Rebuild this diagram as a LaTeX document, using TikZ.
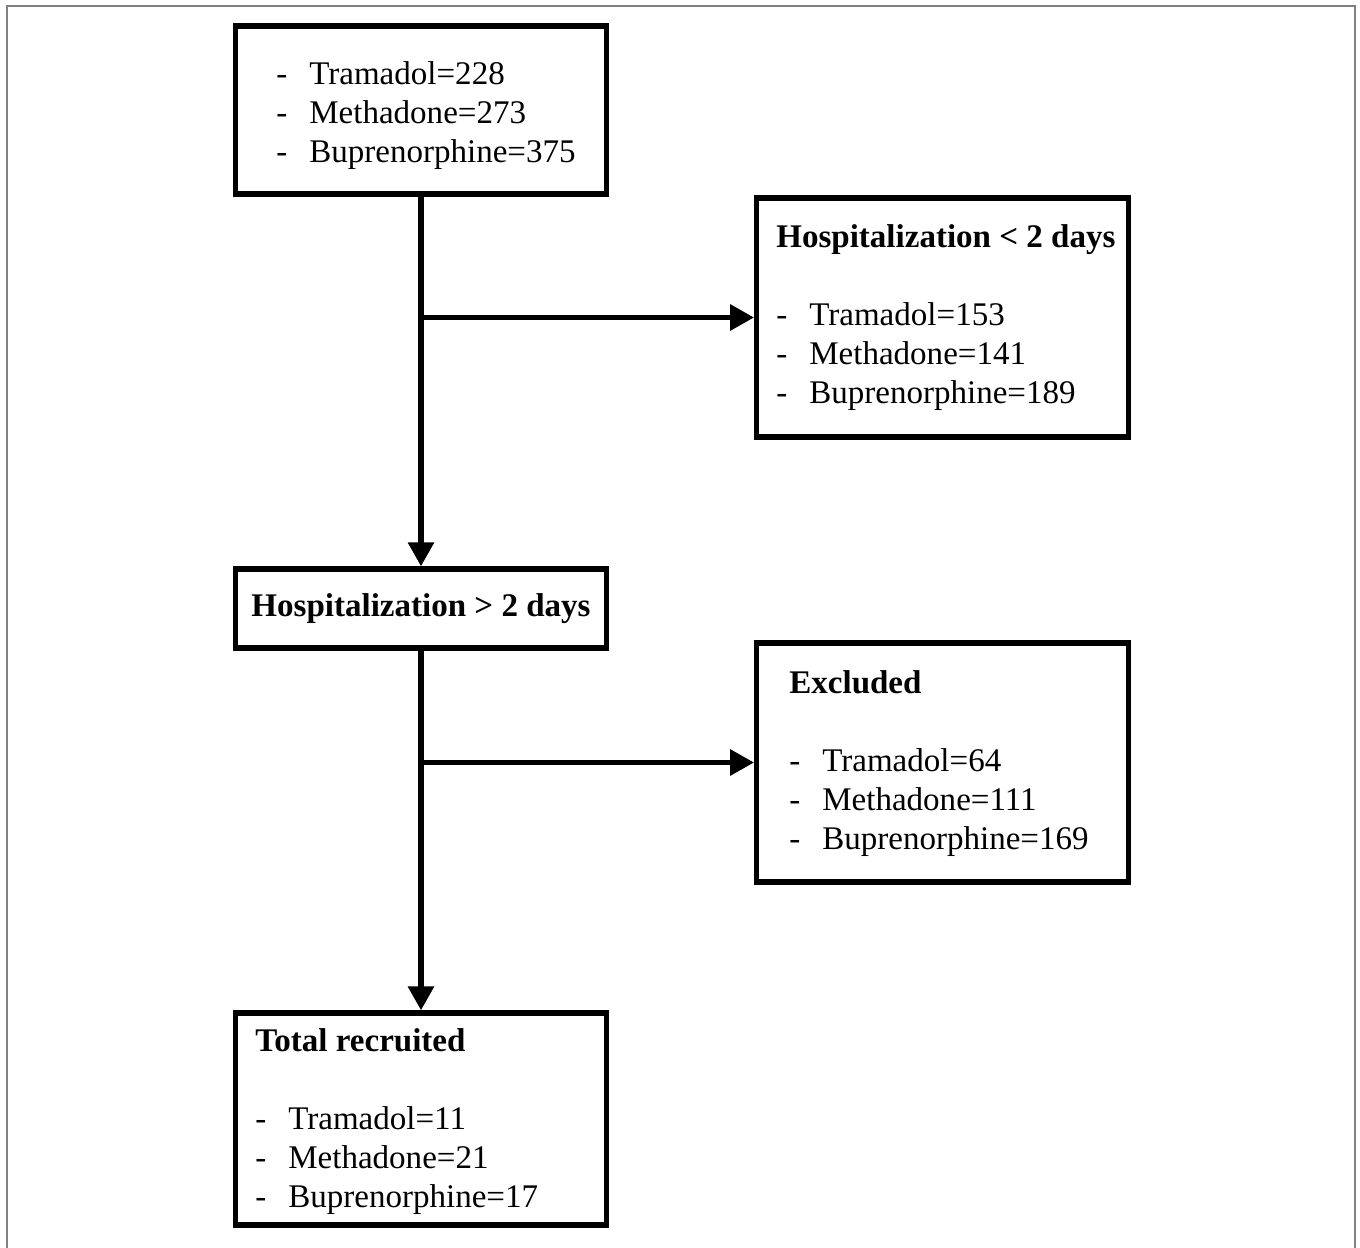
\documentclass[tikz,border=0pt]{standalone}
\usepackage{fontspec}
\setmainfont{Liberation Serif}
\usetikzlibrary{positioning}
\usetikzlibrary{arrows.meta}

\tikzset{
  box/.style={draw, line width=3pt, inner sep=0pt, minimum width=7.43cm},
  txt/.style={anchor=base west, align=left, inner sep=0pt, font=\fontsize{18.8}{22.1}\selectfont},
  flow/.style={line width=3.3pt, -{Triangle[length=0.48cm,width=0.5cm]}}
}
\newcommand{\itm}[1]{\makebox[0.66cm][l]{-}#1}

\begin{document}
\begin{tikzpicture}[x=0.02cm, y=-0.02cm]
  \useasboundingbox (0,0) rectangle (1360,1248);
  \draw[gray, line width=0.9pt] (7,1260) -- (7,6) -- (1355,6) -- (1355,1260);

  % boxes
  \node[box, minimum height=3.36cm] (all) at (421,110) {};
  \node[box, minimum height=4.78cm] (short) at (942.5,317.5) {};
  \node[box, minimum height=1.58cm, font=\fontsize{18.8}{22.1}\selectfont\bfseries] (long) at (421,608.5) {Hospitalization > 2 days};
  \node[box, minimum height=4.78cm] (excl) at (942.5,762.5) {};
  \node[box, minimum height=4.24cm] (total) at (421,1119) {};

  % box texts (placed at the baseline of the last line)
  \node[txt] (alltxt) at (276,162) {\itm{Tramadol=228}\\ \itm{Methadone=273}\\ \itm{Buprenorphine=375}};
  \node[txt] (shorttxt) at (776,403) {\textbf{Hospitalization < 2 days}\\ \\ \itm{Tramadol=153}\\ \itm{Methadone=141}\\ \itm{Buprenorphine=189}};
  \node[txt] (excltxt) at (789,849) {\textbf{Excluded}\\ \\ \itm{Tramadol=64}\\ \itm{Methadone=111}\\ \itm{Buprenorphine=169}};
  \node[txt] (totaltxt) at (255,1207) {\textbf{Total recruited}\\ \\ \itm{Tramadol=11}\\ \itm{Methadone=21}\\ \itm{Buprenorphine=17}};

  % arrows
  \draw[flow] (all.south) -- (long.north);
  \draw[flow] (all.south |- short.west) -- (short.west);
  \draw[flow] (long.south) -- (total.north);
  \draw[flow] (long.south |- excl.west) -- (excl.west);
\end{tikzpicture}
\end{document}
